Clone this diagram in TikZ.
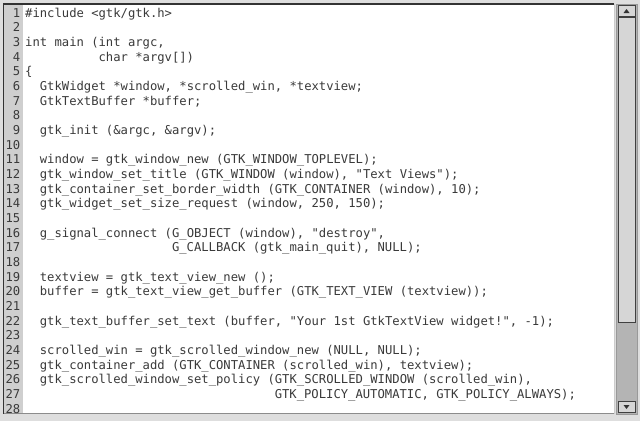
\documentclass[tikz,border=0pt]{standalone}
\usepackage{fontspec}
\newfontfamily\codefont{DejaVu Sans Mono}
\definecolor{panel}{HTML}{DEDEDE}
\definecolor{gutter}{HTML}{CFCFCF}
\definecolor{ink}{HTML}{3A3A3A}
\definecolor{trough}{HTML}{B4B4B4}
\definecolor{thumb}{HTML}{D6D6D6}
\tikzset{
  code/.style={anchor=base west,inner sep=0pt,text=ink,font=\codefont\fontsize{12.2}{14.67}\selectfont},
  num/.style={anchor=base east,inner sep=0pt,text=ink,font=\codefont\fontsize{12.2}{14.67}\selectfont},
  knob/.style={fill=thumb,draw=black!75,line width=0.8pt}
}
\begin{document}
\begin{tikzpicture}[x=1pt,y=-1pt]

	% window and editor frame
	\fill[panel] (0,0) rectangle (640,421);
	\useasboundingbox (0,0) rectangle (640,421);
	\fill[white] (3.5,4) rectangle (614,413.5);
	\fill[gutter] (3.5,4) rectangle (22.5,413.5);
	\draw[black!45,line width=0.8pt] (3.5,413.5) -- (614,413.5);
	\draw[black!20,line width=0.8pt] (614,4) -- (614,413.5);
	\draw[black!80,line width=1.2pt] (3.5,413.5) -- (3.5,4) -- (614,4);

	% scrollbar
	\fill[trough] (616,4) rectangle (637,414);
	\draw[black!40,line width=0.6pt] (616,4) rectangle (637,414);
	\node[knob,minimum width=17pt,minimum height=11pt,inner sep=0pt] (up) at (626.5,11) {};
	\node[knob,minimum width=17pt,minimum height=305pt,inner sep=0pt] (bar) at (626.5,170) {};
	\node[knob,minimum width=17pt,minimum height=11pt,inner sep=0pt] (down) at (626.5,407) {};
	\fill[black!80] (623.5,13) -- (629.5,13) -- (626.5,9) -- cycle;
	\fill[black!80] (623.5,405) -- (629.5,405) -- (626.5,409) -- cycle;

	% line numbers
	\foreach \i in {1,...,28}
		\node[num] (n\i) at (20.5,{17+14.67*(\i-1)}) {\i};

	% code
	\node[code] (c1)  at (25,17)        {\#include <gtk/gtk.h>};
	\node[code] (c3)  at (25,46.34)     {int main (int argc,};
	\node[code] (c4)  at (98.4,61.01)   {char *argv[])};
	\node[code] (c5)  at (25,75.68)     {\{};
	\node[code] (c6)  at (39.68,90.35)  {GtkWidget *window, *scrolled\_win, *textview;};
	\node[code] (c7)  at (39.68,105.02) {GtkTextBuffer *buffer;};
	\node[code] (c9)  at (39.68,134.36) {gtk\_init (\&argc, \&argv);};
	\node[code] (c11) at (39.68,163.70) {window = gtk\_window\_new (GTK\_WINDOW\_TOPLEVEL);};
	\node[code] (c12) at (39.68,178.37) {gtk\_window\_set\_title (GTK\_WINDOW (window), "Text Views");};
	\node[code] (c13) at (39.68,193.04) {gtk\_container\_set\_border\_width (GTK\_CONTAINER (window), 10);};
	\node[code] (c14) at (39.68,207.71) {gtk\_widget\_set\_size\_request (window, 250, 150);};
	\node[code] (c16) at (39.68,237.05) {g\_signal\_connect (G\_OBJECT (window), "destroy",};
	\node[code] (c17) at (171.8,251.72) {G\_CALLBACK (gtk\_main\_quit), NULL);};
	\node[code] (c19) at (39.68,281.06) {textview = gtk\_text\_view\_new ();};
	\node[code] (c20) at (39.68,295.73) {buffer = gtk\_text\_view\_get\_buffer (GTK\_TEXT\_VIEW (textview));};
	\node[code] (c22) at (39.68,325.07) {gtk\_text\_buffer\_set\_text (buffer, "Your 1st GtkTextView widget!", -1);};
	\node[code] (c24) at (39.68,354.41) {scrolled\_win = gtk\_scrolled\_window\_new (NULL, NULL);};
	\node[code] (c25) at (39.68,369.08) {gtk\_container\_add (GTK\_CONTAINER (scrolled\_win), textview);};
	\node[code] (c26) at (39.68,383.75) {gtk\_scrolled\_window\_set\_policy (GTK\_SCROLLED\_WINDOW (scrolled\_win),};
	\node[code] (c27) at (274.56,398.42) {GTK\_POLICY\_AUTOMATIC, GTK\_POLICY\_ALWAYS);};
\end{tikzpicture}
\end{document}
